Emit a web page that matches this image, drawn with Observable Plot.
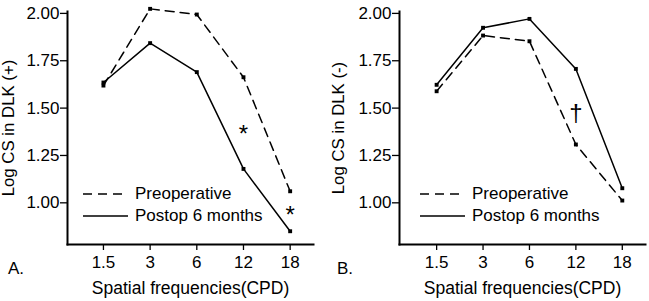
<!DOCTYPE html>
<html>
<head>
<meta charset="utf-8">
<script src="https://cdn.jsdelivr.net/npm/d3@7"></script>
<script src="https://cdn.jsdelivr.net/npm/@observablehq/plot@0.6"></script>
<style>
  body { margin: 0; background: #fff; }
  #wrap { position: relative; width: 649px; height: 301px; display: flex; font-family: 'Liberation Sans', Arial, sans-serif; color: #000; }
  .panel { position: relative; }
  .tag { position: absolute; font-size: 17px; top: 259px; }
  .legend { position: absolute; font-size: 17px; }
  .legend .row { display: flex; align-items: center; height: 22px; }
  .legend svg { margin-right: 7px; }
</style>
</head>
<body>
<div id="wrap"></div>
<script>
// ---- data ----
const freqLabels = ["1.5", "3", "6", "12", "18"];
const preopA  = [1.619, 2.024, 1.994, 1.663, 1.061];
const postopA = [1.635, 1.843, 1.690, 1.179, 0.850];
const preopB  = [1.589, 1.883, 1.853, 1.308, 1.012];
const postopB = [1.623, 1.924, 1.971, 1.707, 1.077];
const yTicks = [1.00, 1.25, 1.50, 1.75, 2.00];
const seriesNames = ["Preoperative", "Postop 6 months"];
const annotA = [{i: 3, v: 1.36, t: "*"}, {i: 4, v: 0.935, t: "*"}];
const annotB = [{i: 3, v: 1.47, t: "†"}];

const font = "'Liberation Sans', Arial, sans-serif";

function panel({pre, post, annot, ylabel, width, marginLeft, marginRight, xmin, labelOffsetY}) {
  const rows = freqLabels.map((f, i) => ({i, pre: pre[i], post: post[i]}));
  return Plot.plot({
    width, height: 301,
    marginLeft, marginRight, marginTop: 11, marginBottom: 57,
    style: {fontFamily: font, fontSize: "17px", color: "#000", background: "transparent", overflow: "visible"},
    x: {type: "linear", domain: [xmin, 4.5]},
    y: {domain: [0.78, 2.01]},
    marks: [
      Plot.frame({anchor: "left", strokeWidth: 2}),
      Plot.frame({anchor: "bottom", strokeWidth: 2}),
      Plot.axisX({ticks: [0, 1, 2, 3, 4], tickFormat: i => freqLabels[i], tickSize: 6, tickPadding: 5,
                  label: null, strokeWidth: 1.3}),
      Plot.axisX({ticks: [], label: "Spatial frequencies(CPD)", labelAnchor: "center", labelArrow: "none", labelOffset: 49, fontSize: 17.5}),
      Plot.axisY({ticks: yTicks, tickFormat: d3.format(".2f"), tickSize: 7, tickPadding: 1, label: null, strokeWidth: 1.3}),
      Plot.axisY({ticks: [], label: ylabel, labelAnchor: "center", labelArrow: "none", labelOffset: labelOffsetY, fontSize: 16.8}),
      Plot.line(rows, {x: "i", y: "pre", stroke: "#000", strokeWidth: 1.5, strokeDasharray: "9,6"}),
      Plot.line(rows, {x: "i", y: "post", stroke: "#000", strokeWidth: 1.5}),
      Plot.dot(rows, {x: "i", y: "pre", symbol: "square", r: 2.2, fill: "#000"}),
      Plot.dot(rows, {x: "i", y: "post", symbol: "square", r: 2.2, fill: "#000"}),
      Plot.text(annot, {x: "i", y: "v", text: "t", fontSize: 24, fill: "#000"})
    ]
  });
}

function legendHTML(left, top) {
  const lg = document.createElement("div");
  lg.className = "legend";
  lg.style.left = left + "px";
  lg.style.top = top + "px";
  const dashes = ["9,6", null];
  seriesNames.forEach((name, k) => {
    const row = document.createElement("div");
    row.className = "row";
    const ns = "http://www.w3.org/2000/svg";
    const s = document.createElementNS(ns, "svg");
    s.setAttribute("width", 45); s.setAttribute("height", 4);
    const l = document.createElementNS(ns, "line");
    l.setAttribute("x1", 0); l.setAttribute("x2", 45); l.setAttribute("y1", 2); l.setAttribute("y2", 2);
    l.setAttribute("stroke", "#000"); l.setAttribute("stroke-width", 1.5);
    if (dashes[k]) l.setAttribute("stroke-dasharray", dashes[k]);
    s.appendChild(l);
    row.appendChild(s);
    const t = document.createElement("span");
    t.textContent = name;
    row.appendChild(t);
    lg.appendChild(row);
  });
  return lg;
}

const wrap = document.getElementById("wrap");

const pA = document.createElement("div"); pA.className = "panel"; pA.style.width = "320px";
pA.appendChild(panel({pre: preopA, post: postopA, annot: annotA, ylabel: "Log CS in DLK (+)", width: 320, marginLeft: 67, marginRight: 7, xmin: -0.77, labelOffsetY: 65}));
pA.appendChild(legendHTML(83, 183));
const tA = document.createElement("div"); tA.className = "tag"; tA.style.left = "8px"; tA.textContent = "A."; pA.appendChild(tA);

const pB = document.createElement("div"); pB.className = "panel"; pB.style.width = "329px";
pB.appendChild(panel({pre: preopB, post: postopB, annot: annotB, ylabel: "Log CS in DLK (-)", width: 329, marginLeft: 79, marginRight: 4, xmin: -0.8, labelOffsetY: 67}));
pB.appendChild(legendHTML(100, 183));
const tB = document.createElement("div"); tB.className = "tag"; tB.style.left = "17px"; tB.textContent = "B."; pB.appendChild(tB);

wrap.appendChild(pA);
wrap.appendChild(pB);
</script>
</body>
</html>
